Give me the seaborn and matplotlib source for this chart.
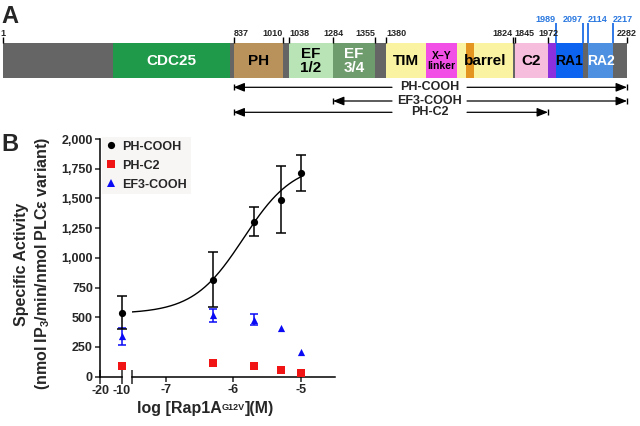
import numpy as np
import pandas as pd
import matplotlib
matplotlib.use("Agg")
import matplotlib.pyplot as plt
import matplotlib.ticker as mticker
from matplotlib.lines import Line2D
import seaborn as sns

# ---------------- Panel A: PLCe domain map (residue numbers) ----------------
full_length = [1, 2282]
dom_start = [401, 837, 1038, 1284, 1380, 1520, 1630, 1660, 1845, 1972, 1989, 2114]
dom_end = [824, 1010, 1284, 1355, 1520, 1630, 1824, 1690, 1972, 1989, 2097, 2217]
dom_label = ["CDC25", "PH", "EF\n1/2", "EF\n3/4", "TIM", "X\u2013Y\nlinker", "barrel", "", "C2", "", "RA1", "RA2"]
dom_color = ["#1f9a4a", "#b9915a", "#b9e5b6", "#6f9c6c", "#faf3a2", "#f24fe6", "#faf3a2",
             "#e3951f", "#f6bedc", "#8c2fdc", "#0b63f0", "#4d8fe0"]
dom_text_color = ["white", "black", "black", "white", "black", "black", "black", "black",
                  "black", "black", "black", "white"]
dom_text_size = [11, 11, 11, 11, 11, 7.5, 11, 11, 11, 11, 10, 10]

tick_res = [1, 837, 1010, 1038, 1284, 1355, 1380, 1824, 1845, 1972, 2282]
tick_ha = ["center", "left", "right", "left", "center", "right", "left", "right", "left", "center", "center"]
ra_res = [1989, 2097, 2114, 2217]
ra_ha = ["right", "right", "left", "left"]

construct_name = ["PH-COOH", "EF3-COOH", "PH-C2"]
construct_start = [837, 1284, 837]
construct_end = [2282, 2282, 1972]

# ---------------- Panel B: Rap1A activation ----------------
log_conc = [-10, -6.3, -5.7, -5.3, -5.0]
ph_cooh = [540, 815, 1305, 1487, 1712]
ph_cooh_sd = [138, 232, 120, 282, 153]
ph_c2 = [92, 118, 90, 55, 34]
ph_c2_sd = [0, 25, 22, 0, 0]
ef3_cooh = [340, 515, 480, 406, 210]
ef3_cooh_sd = [72, 52, 47, 0, 0]
# sigmoidal fit for PH-COOH (bottom, top, logEC50, hill)
fit_bottom, fit_top, fit_logec50, fit_hill = 530, 1800, -5.85, 1.17

sns.set_theme(style="white")
plt.rcParams["font.family"] = ["Liberation Sans", "DejaVu Sans"]
plt.rcParams["font.weight"] = "bold"
plt.rcParams["axes.unicode_minus"] = False
plt.rcParams["mathtext.fontset"] = "custom"
plt.rcParams["mathtext.rm"] = "Liberation Sans:bold"
plt.rcParams["mathtext.bf"] = "Liberation Sans:bold"
plt.rcParams["mathtext.default"] = "bf"

fig = plt.figure(figsize=(6.4, 4.26), dpi=100)
W, H = 640, 426

# schematic (not to scale) residue -> pixel map used as the x scale of panel A
map_res = [-10, 1, 837, 1010, 1038, 1284, 1355, 1380, 1824, 1845, 1972, 1989, 2097, 2114, 2217, 2282, 2342]
map_px = [0, 3, 233.5, 282.7, 289, 333, 375, 386, 512.7, 514.5, 548, 556, 583, 588, 613, 627, 640]
fwd = lambda x: np.interp(x, map_res, map_px)
inv = lambda p: np.interp(p, map_px, map_res)

ax_a = fig.add_axes([0, 1 - 120 / H, 1, 120 / H])
ax_a.set_xscale("function", functions=(fwd, inv))
ax_a.set_xlim(map_res[0], map_res[-1])
ax_a.set_ylim(120, 0)
ax_a.axis("off")

bar_y, bar_h = 60.5, 35.5
ax_a.barh(bar_y, full_length[1] - full_length[0], left=full_length[0], height=bar_h,
          color="#656565", linewidth=0)
ax_a.barh([bar_y] * len(dom_start), np.array(dom_end) - np.array(dom_start), left=dom_start,
          height=bar_h, color=dom_color, linewidth=0)
for s, e, lab, tc, fs in zip(dom_start, dom_end, dom_label, dom_text_color, dom_text_size):
    if lab:
        mid = inv((fwd(s) + fwd(e)) / 2)
        ax_a.text(mid, bar_y + 0.5, lab, ha="center", va="center", color=tc, fontsize=fs,
                  linespacing=1.05, zorder=4)

ax_a.vlines(tick_res, 37, bar_y - bar_h / 2, color="black", lw=1)
for r, ha in zip(tick_res, tick_ha):
    ax_a.text(r, 36, str(r), ha=ha, va="baseline", fontsize=6.5)
ax_a.vlines(ra_res, 23, bar_y - bar_h / 2, color="#1f6fe6", lw=1.3)
for r, ha in zip(ra_res, ra_ha):
    ax_a.text(r, 22.5, str(r), ha=ha, va="baseline", fontsize=6.5, color="#2a78e0")

row_y = [87.3, 101, 112.3]
gap_lo, gap_hi, label_x = 1401, 1664, 1534
arrow = dict(arrowstyle="-|>,head_length=0.55,head_width=0.22", color="black", lw=0.9,
             shrinkA=0, shrinkB=0)
for name, s, e, y in zip(construct_name, construct_start, construct_end, row_y):
    ax_a.annotate("", xy=(s, y), xytext=(gap_lo, y), arrowprops=arrow)
    ax_a.annotate("", xy=(e, y), xytext=(gap_hi, y), arrowprops=arrow)
    ax_a.vlines([s, e], y - 3, y + 3, color="black", lw=1)
    ax_a.text(label_x, y, name, ha="center", va="center", fontsize=9)

fig.text(1 / W, 1 - 23 / H, "A", fontsize=17, va="baseline", ha="left")
fig.text(1 / W, 1 - 151 / H, "B", fontsize=17, va="baseline", ha="left")

# ---------------- Panel B ----------------
df = pd.DataFrame({
    "construct": ["PH-COOH"] * 5 + ["PH-C2"] * 5 + ["EF3-COOH"] * 5,
    "log_conc": log_conc * 3,
    "activity": ph_cooh + ph_c2 + ef3_cooh,
    "sd": ph_cooh_sd + ph_c2_sd + ef3_cooh_sd,
})
palette = {"PH-COOH": "black", "PH-C2": "#f01414", "EF3-COOH": "#0a0af5"}
markers = {"PH-COOH": "o", "PH-C2": "s", "EF3-COOH": "^"}
sizes = {"PH-COOH": 27, "PH-C2": 27, "EF3-COOH": 27}
caps = {"PH-COOH": 3.6, "PH-C2": 2.5, "EF3-COOH": 2.9}

y0, y1 = 376.7, 139
ax_l = fig.add_axes([100 / W, (H - y0) / H, 21.7 / W, (y0 - y1) / H])
ax_r = fig.add_axes([131.7 / W, (H - y0) / H, 203.3 / W, (y0 - y1) / H], sharey=ax_l)

for ax, part in [(ax_l, df[df.log_conc <= -10]), (ax_r, df[df.log_conc > -10])]:
    for name in ["EF3-COOH", "PH-C2", "PH-COOH"]:
        sub = part[part.construct == name]
        err = sub[sub.sd > 0]
        if len(err):
            eb = ax.errorbar(err.log_conc, err.activity, yerr=err.sd, fmt="none",
                             ecolor=palette[name], elinewidth=1.1, capsize=caps[name], capthick=1.1)
            for art in eb.lines[1] + eb.lines[2]:
                art.set_clip_on(False)
        sns.scatterplot(data=sub, x="log_conc", y="activity", color=palette[name],
                        marker=markers[name], s=sizes[name], linewidth=0, legend=False,
                        ax=ax, clip_on=False, zorder=3)

fit_x = np.linspace(-7.5, -5.0, 200)
fit_y = fit_bottom + (fit_top - fit_bottom) / (1 + 10 ** ((fit_logec50 - fit_x) * fit_hill))
sns.lineplot(x=fit_x, y=fit_y, ax=ax_r, color="black", lw=1.0)

ax_l.set_ylim(0, 2000)
ax_l.set_yticks(range(0, 2001, 250))
ax_l.yaxis.set_major_formatter(mticker.StrMethodFormatter("{x:,.0f}"))
ax_l.set_xlim(-20, -10)
ax_l.set_xticks([-20, -10])
ax_r.set_xlim(-7.5, -4.5)
ax_r.set_xticks([-7, -6, -5])
ax_r.set_xticks([-7.5], minor=True)

for ax in (ax_l, ax_r):
    ax.set_xlabel("")
    ax.set_ylabel("")
    ax.patch.set_alpha(0)
    for sp in ax.spines.values():
        sp.set_linewidth(1.1)
        sp.set_color("black")
    ax.spines["top"].set_visible(False)
    ax.spines["right"].set_visible(False)
ax_r.spines["left"].set_visible(False)
ax_r.tick_params(axis="y", left=False, labelleft=False)

ax_l.tick_params(axis="y", direction="out", length=3.6, width=1.1, pad=1.5, labelsize=9, left=True)
ax_l.tick_params(axis="x", direction="inout", length=9.4, width=1.1, pad=1.2, labelsize=9, bottom=True)
ax_r.tick_params(axis="x", which="major", direction="out", length=3.6, width=1.1, pad=2,
                 labelsize=9, bottom=True)
ax_r.tick_params(axis="x", which="minor", direction="inout", length=9.4, width=1.1, bottom=True)

handles = [Line2D([], [], marker=markers[n], color=palette[n], linestyle="none",
                  markersize=np.sqrt(sizes[n]), markeredgewidth=0) for n in palette]
fig.legend(handles, list(palette), loc="upper left", bbox_to_anchor=(102 / W, 1 - 137 / H),
           frameon=True, facecolor="#f7f3f3", edgecolor="none", fancybox=False,
           fontsize=9, handlelength=0.8, handletextpad=0.5, labelspacing=0.55,
           borderpad=0.3, borderaxespad=0)

fig.text(22 / W, 1 - 264 / H, "Specific Activity", rotation=90, ha="center", va="center",
         fontsize=11.5)
fig.text(43 / W, 1 - 264 / H, "(nmol IP$_3$/min/nmol PLC\u03b5 variant)", rotation=90,
         ha="center", va="center", fontsize=11.5)

# x label built from pieces so the superscript can be small
t1 = fig.text(137 / W, 1 - 413 / H, "log [Rap1A", ha="left", va="baseline", fontsize=11.5)
t2 = ax_r.annotate("G12V", xy=(1, 0.9), xycoords=t1, ha="left", va="top", fontsize=6.5,
                   annotation_clip=False)
t3 = ax_r.annotate("](M)", xy=(1, 0), xycoords=(t2, t1), ha="left", va="bottom",
                   fontsize=11.5, annotation_clip=False)

fig.savefig("out.png", dpi=100, facecolor="white")
